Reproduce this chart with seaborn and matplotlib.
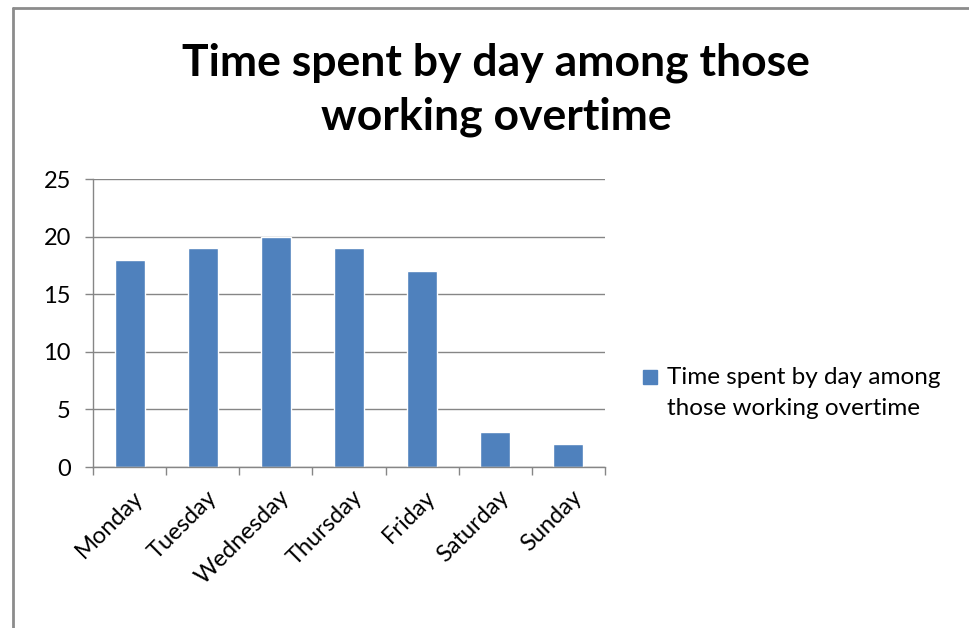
import matplotlib
matplotlib.use("Agg")
import matplotlib.pyplot as plt
import seaborn as sns
import pandas as pd
from matplotlib.lines import Line2D
from matplotlib.patches import Patch, Rectangle
from matplotlib.legend_handler import HandlerPatch

days = ["Monday", "Tuesday", "Wednesday", "Thursday", "Friday", "Saturday", "Sunday"]
values = [18, 19, 20, 19, 17, 3, 2]
series_name = "Time spent by day among those working overtime"
title = "Time spent by day among those\nworking overtime"
yticks = [0, 5, 10, 15, 20, 25]

sns.set_theme(style="white")
plt.rcParams['font.family'] = ['Lato', 'DejaVu Sans']
plt.rcParams['text.color'] = 'black'
plt.rcParams['xtick.color'] = 'black'
plt.rcParams['ytick.color'] = 'black'

df = pd.DataFrame({"day": days, "value": values})

fig = plt.figure(figsize=(9.69, 6.28), dpi=100)
ax = fig.add_axes([93/969, 1-467/628, (605-93)/969, (467-179)/628])

blue = "#4F81BD"
grey = "#868686"
sns.barplot(data=df, x="day", y="value", color=blue, width=0.41, ax=ax,
            saturation=1)

ax.set_ylim(0, 25)
ax.set_xlim(-0.5, 6.5)
ax.set_yticks(yticks)
ax.set_yticklabels([str(v) for v in yticks], fontsize=17)
ax.yaxis.grid(True, color=grey, linewidth=1)
ax.set_axisbelow(True)
ax.set_xlabel("")
ax.set_ylabel("")

for s in ["top", "right"]:
    ax.spines[s].set_visible(False)
for s in ["left", "bottom"]:
    ax.spines[s].set_color(grey)
    ax.spines[s].set_linewidth(1)

ax.tick_params(axis="y", which="major", length=6, color=grey, width=1, left=True, pad=10,
               labelcolor="black")
ax.set_xticks(range(len(days)))
ax.set_xticklabels(days, rotation=45, ha="right", rotation_mode="anchor", fontsize=17)
ax.tick_params(axis="x", which="major", length=0, pad=14, labelcolor="black")
ax.set_xticks([i - 0.5 for i in range(len(days) + 1)], minor=True)
ax.tick_params(axis="x", which="minor", length=6, color=grey, width=1, bottom=True)
for lbl in ax.get_xticklabels():
    lbl.set_transform(lbl.get_transform() + matplotlib.transforms.ScaledTranslation(3/100, 0, fig.dpi_scale_trans))

fig.text(496/969, 1-90/628, title, ha="center", va="center", fontsize=32,
         fontweight="bold", linespacing=1.42, color="black")


def top_square(legend, orig_handle, xdescent, ydescent, width, height, fontsize):
    size = 14 * 72 / 100
    lift = 4 * 72 / 100
    return Rectangle((-xdescent, -ydescent + height - size + lift), size, size)


handles = [Patch(facecolor=blue, edgecolor=blue)]
leg = fig.legend(handles, ["Time spent by day among\nthose working overtime"],
                 loc="center left", bbox_to_anchor=(643/969, 1-393/628), frameon=False,
                 fontsize=17.5, handlelength=0.7, handleheight=2.2, handletextpad=0.3,
                 borderaxespad=0, borderpad=0, labelcolor="black",
                 handler_map={Patch: HandlerPatch(patch_func=top_square)})
for t in leg.get_texts():
    t.set_linespacing(1.6)

fig.add_artist(Line2D([13/969, 13/969], [0, 1-8/628], color="#8c8c8c", linewidth=2,
                      transform=fig.transFigure))
fig.add_artist(Line2D([13/969, 1], [1-8/628, 1-8/628], color="#8c8c8c", linewidth=2,
                      transform=fig.transFigure))

fig.savefig("out.png", dpi=100)
